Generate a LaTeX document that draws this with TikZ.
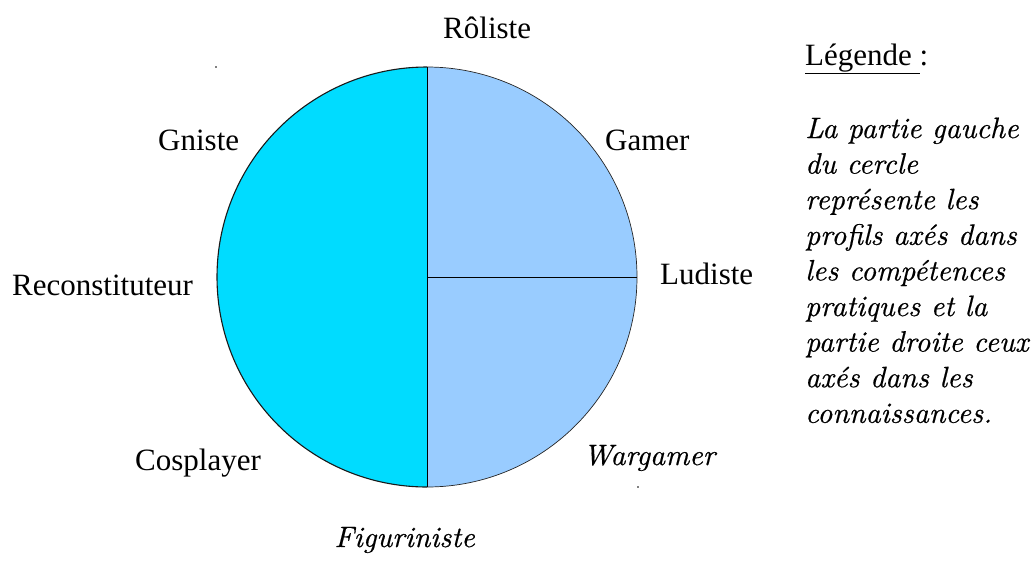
\documentclass[tikz,border=0pt]{standalone}
\usepackage{fontspec}
\setmainfont{Liberation Serif}
\newfontfamily\lmit{lmroman10-italic.otf}[FakeBold=0.5]
\definecolor{leftc}{RGB}{0,220,255}
\definecolor{rightc}{RGB}{153,204,255}
\tikzset{
  lbl/.style={inner sep=0pt, anchor=base west, font=\fontsize{31}{35.6}\selectfont},
  ilbl/.style={inner sep=0pt, anchor=base west, font=\lmit\fontsize{29.5}{35.6}\selectfont},
  pieline/.style={draw=black, line width=0.8pt},
  speck/.style={fill=black, inner sep=0pt, minimum size=1.6pt, circle}
}
\begin{document}
\begin{tikzpicture}[x=1pt,y=-1pt]
\useasboundingbox (0,0) rectangle (1036,560);
\coordinate (c) at (427,277);
\coordinate (top) at (427,67);
\coordinate (bot) at (427,487);
\coordinate (rgt) at (637,277);
\begin{scope}
  \clip (200,50) rectangle (427,500);
  \fill[leftc] (c) circle[radius=210pt];
\end{scope}
\begin{scope}
  \clip (427,50) rectangle (660,500);
  \fill[rightc] (c) circle[radius=210pt];
\end{scope}
\begin{scope}
  \clip (200,50) rectangle (427,500);
  \draw[draw=black!90, line width=1.1pt] (c) circle[radius=210pt];
\end{scope}
\begin{scope}
  \clip (427,50) rectangle (660,500);
  \draw[draw=black!85, line width=0.7pt] (c) circle[radius=210pt];
\end{scope}
\draw[pieline] (top) -- (bot);
\draw[pieline] (c) -- (rgt);
% labels
\node[lbl] (roliste) at (443,38) {Rôliste};
\node[lbl] (gniste) at (158,150) {Gniste};
\node[lbl] (gamer) at (605,150) {Gamer};
\node[lbl] (ludiste) at (660,284) {Ludiste};
\node[lbl] (recon) at (12,295) {Reconstituteur};
\node[lbl] (cosplayer) at (135,470) {Cosplayer};
\node[ilbl] (wargamer) at (583,465) {Wargamer};
\node[ilbl, anchor=base east] (figur) at (475,547) {Figuriniste};
% specks
\node[speck] (s1) at (216,67) {};
\node[speck] (s2) at (638,487) {};
% legend
\node[lbl] (leg) at (805,65) {\underline{Légende\ }:};
\foreach \t [count=\i from 0] in {La partie gauche, du cercle, représente les, profils axés dans, les compétences, pratiques et la, partie droite ceux, axés dans les, connaissances.}{
  \node[ilbl] (l\i) at (805,138+35.6*\i) {\t};
}
\end{tikzpicture}
\end{document}
